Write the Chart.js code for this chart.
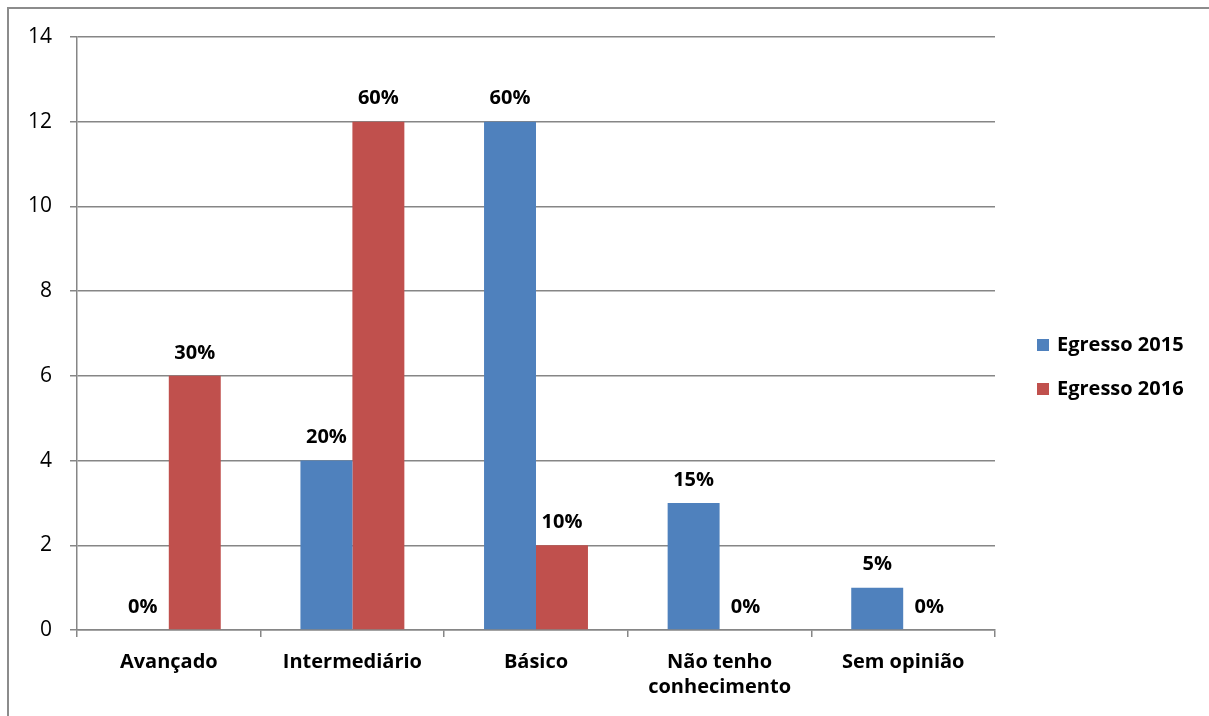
<!DOCTYPE html>
<html>
<head>
<meta charset="utf-8">
<script src="https://cdn.jsdelivr.net/npm/chart.js@4/dist/chart.umd.min.js"></script>
<style>
  html, body { margin: 0; padding: 0; background: #fff; }
  #wrap { position: absolute; left: 0; top: 0; width: 1209px; height: 716px; }
</style>
</head>
<body>
<div id="wrap"><canvas id="c" width="1209" height="716"></canvas></div>
<script>
// Answer categories and counts of respondents per graduating class
const categories = ['Avançado', 'Intermediário', 'Básico', ['Não tenho', 'conhecimento'], 'Sem opinião'];
const seriesNames = ['Egresso 2015', 'Egresso 2016'];
const egresso2015 = [0, 4, 12, 3, 1];
const egresso2016 = [6, 12, 2, 0, 0];
const yTicks = [0, 2, 4, 6, 8, 10, 12, 14];

const BLUE = '#4F81BD';
const RED = '#C0504D';
const GRID = '#868686';
const FONT = '"Open Sans", "DejaVu Sans", sans-serif';

// Thin frame along the top and left edges of the figure
const framePlugin = {
  id: 'frame',
  beforeDraw(chart) {
    const ctx = chart.ctx;
    ctx.save();
    ctx.strokeStyle = '#8c8c8c';
    ctx.lineWidth = 2;
    ctx.beginPath();
    ctx.moveTo(8, 716);
    ctx.lineTo(8, 8);
    ctx.lineTo(1209, 8);
    ctx.stroke();
    ctx.restore();
  }
};

// Percentage of each series' total written above every bar
const percentLabels = {
  id: 'percentLabels',
  afterDatasetsDraw(chart) {
    const ctx = chart.ctx;
    ctx.save();
    ctx.font = 'bold 20px ' + FONT;
    ctx.fillStyle = '#000';
    ctx.textAlign = 'center';
    ctx.textBaseline = 'middle';
    chart.data.datasets.forEach((ds, i) => {
      const total = ds.data.reduce((a, b) => a + b, 0);
      chart.getDatasetMeta(i).data.forEach((bar, j) => {
        const pct = Math.round(ds.data[j] / total * 100) + '%';
        ctx.fillText(pct, bar.x, bar.y - 23);
      });
    });
    ctx.restore();
  }
};

// Legend to the right of the plot
const sideLegend = {
  id: 'sideLegend',
  afterDraw(chart) {
    const ctx = chart.ctx;
    ctx.save();
    ctx.font = 'bold 20px ' + FONT;
    ctx.textAlign = 'left';
    ctx.textBaseline = 'middle';
    chart.data.datasets.forEach((ds, i) => {
      const cy = 345 + i * 44;
      ctx.fillStyle = ds.backgroundColor;
      ctx.fillRect(1037, cy - 6, 12, 12);
      ctx.fillStyle = '#000';
      ctx.fillText(ds.label, 1057, cy);
    });
    ctx.restore();
  }
};

new Chart(document.getElementById('c'), {
  type: 'bar',
  data: {
    labels: categories,
    datasets: [
      { label: seriesNames[0], data: egresso2015, backgroundColor: BLUE },
      { label: seriesNames[1], data: egresso2016, backgroundColor: RED }
    ]
  },
  options: {
    responsive: false,
    animation: false,
    devicePixelRatio: 1,
    layout: { padding: { left: 0, top: 37, right: 214, bottom: 0 } },
    datasets: { bar: { categoryPercentage: 0.566, barPercentage: 1.0 } },
    plugins: {
      legend: { display: false },
      tooltip: { enabled: false },
      title: { display: false }
    },
    scales: {
      x: {
        afterFit(s) { s.height = 86; },
        grid: {
          offset: true,
          drawOnChartArea: false,
          drawTicks: true,
          tickLength: 7,
          color: GRID,
          lineWidth: 1.5
        },
        border: { color: GRID, width: 1.5 },
        ticks: {
          color: '#000',
          padding: 13,
          font: { family: FONT, size: 20, weight: 'bold', lineHeight: 1.25 }
        }
      },
      y: {
        min: 0,
        max: 14,
        afterFit(s) { s.width = 77; },
        afterBuildTicks(s) { s.ticks = yTicks.map(v => ({ value: v })); },
        grid: {
          color: GRID,
          lineWidth: 1.5,
          tickLength: 7
        },
        border: { color: GRID, width: 1.5 },
        ticks: {
          color: '#000',
          padding: 18,
          font: { family: FONT, size: 21 }
        }
      }
    }
  },
  plugins: [framePlugin, percentLabels, sideLegend]
});
</script>
</body>
</html>
